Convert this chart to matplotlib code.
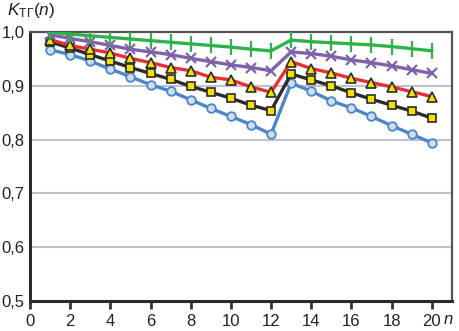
import matplotlib
matplotlib.use("Agg")
import matplotlib.pyplot as plt
import numpy as np

plt.rcParams['font.family'] = ['Liberation Sans', 'DejaVu Sans']
plt.rcParams['mathtext.fontset'] = 'custom'
plt.rcParams['mathtext.rm'] = 'Liberation Sans'
plt.rcParams['mathtext.it'] = 'Liberation Sans:italic'

n = np.arange(1, 21)
green = [1.000, 0.996, 0.993, 0.990, 0.987, 0.984, 0.981, 0.978, 0.975, 0.972,
         0.968, 0.965, 0.985, 0.982, 0.980, 0.978, 0.976, 0.973, 0.969, 0.965]
purple = [0.995, 0.988, 0.982, 0.975, 0.968, 0.963, 0.958, 0.951, 0.945, 0.939,
          0.934, 0.928, 0.963, 0.960, 0.955, 0.948, 0.943, 0.937, 0.930, 0.923]
red = [0.986, 0.975, 0.968, 0.961, 0.951, 0.943, 0.934, 0.928, 0.916, 0.911,
       0.898, 0.888, 0.945, 0.932, 0.924, 0.914, 0.906, 0.898, 0.889, 0.880]
black = [0.982, 0.970, 0.958, 0.946, 0.934, 0.923, 0.912, 0.899, 0.888, 0.877,
         0.864, 0.854, 0.922, 0.911, 0.900, 0.887, 0.875, 0.864, 0.853, 0.840]
blue = [0.967, 0.958, 0.946, 0.931, 0.917, 0.902, 0.890, 0.874, 0.858, 0.843,
        0.828, 0.810, 0.905, 0.890, 0.872, 0.859, 0.843, 0.826, 0.810, 0.794]

xticks = list(range(0, 21, 2))
yticks = [0.5, 0.6, 0.7, 0.8, 0.9, 1.0]

fig = plt.figure(figsize=(4.6, 3.31), dpi=100)
ax = fig.add_axes([0.0652, 0.0906, 0.917, 0.8127])

for y in [0.6, 0.7, 0.8, 0.9]:
    ax.axhline(y, color='#bcc3ce', lw=1.5, zorder=0)

ax.plot(n, blue, color='#4a86c8', lw=2.4, marker='o', ms=6.2,
        mfc='#cfdded', mec='#4a86c8', mew=1.3, zorder=3)
ax.plot(n, black, color='#2b2b2b', lw=2.4, marker='s', ms=5.8,
        mfc='#f2e000', mec='#2b2b2b', mew=1.2, zorder=4)
ax.plot(n, red, color='#e83030', lw=2.4, marker='^', ms=7,
        mfc='#f2e000', mec='#2b2b2b', mew=1.2, zorder=5)
ax.plot(n, purple, color='#7f62aa', lw=2.4, marker='x', ms=7.5,
        mew=1.6, zorder=6)
ax.plot(n, green, color='#2fb24c', lw=2.4, marker='|', ms=11,
        mew=1.6, zorder=7)

ax.set_xlim(0, 21)
ax.set_ylim(0.5, 1.0)
ax.set_xticks(xticks)
ax.set_xticklabels([str(t) for t in xticks], fontsize=12, color='#222222')
ax.set_yticks(yticks)
ax.set_yticklabels([f'{t:.1f}'.replace('.', ',') for t in yticks], fontsize=12, color='#222222')
ax.tick_params(axis='x', length=6, width=2, color='#333333', pad=3)
ax.tick_params(axis='y', length=0, pad=4)

for side in ['left', 'bottom']:
    ax.spines[side].set_linewidth(2.2)
    ax.spines[side].set_color('#2b2b2b')
for side in ['top', 'right']:
    ax.spines[side].set_linewidth(1.6)
    ax.spines[side].set_color('#555555')

fig.text(0.015, 0.998, r'$K_{\mathrm{ТГ}}(n)$', fontsize=12.5, va='top', ha='left', color='#222222')
fig.text(0.965, 0.012, 'n', fontsize=12, style='italic', ha='left', va='bottom', color='#222222')

fig.savefig('out.png', dpi=100)
